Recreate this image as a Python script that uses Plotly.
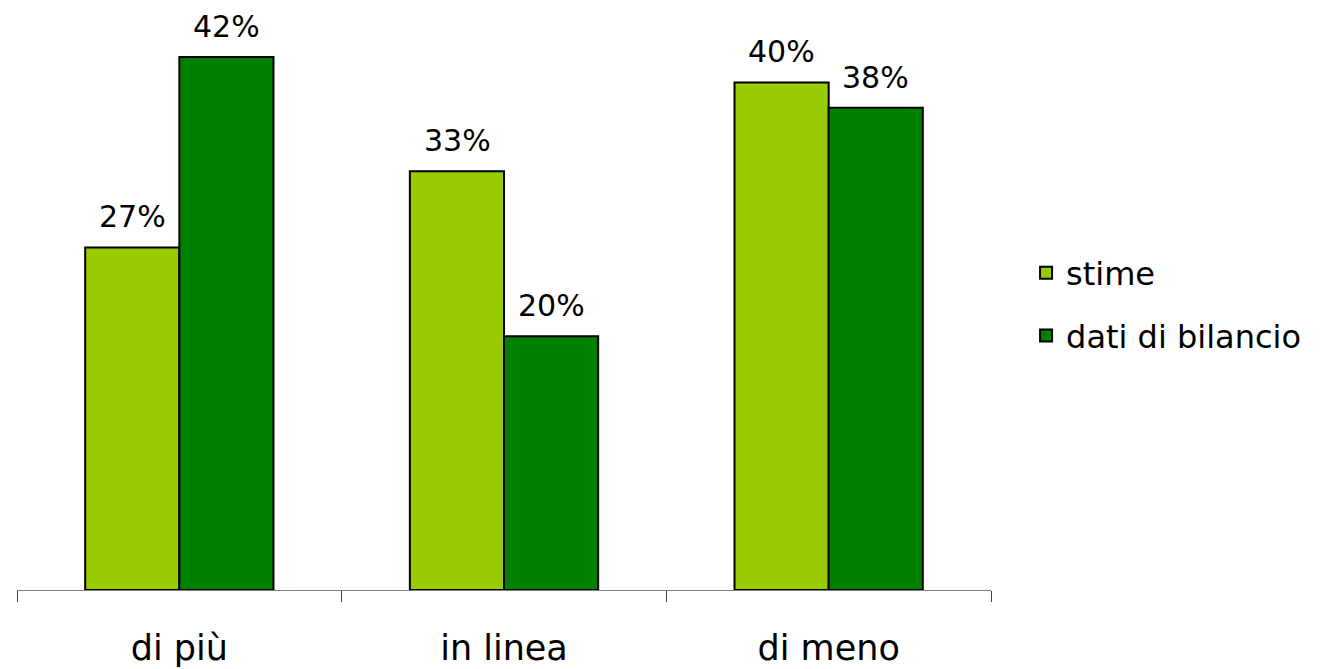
import plotly.graph_objects as go

categories = ["di più", "in linea", "di meno"]
stime = [27, 33, 40]
dati_bilancio = [42, 20, 38]
series_names = ["stime", "dati di bilancio"]
colors = ["#99CC00", "#008000"]

FONT = "DejaVu Sans"

fig = go.Figure()
for i, (name, vals) in enumerate(zip(series_names, [stime, dati_bilancio])):
    fig.add_trace(go.Bar(
        x=categories, y=vals, name=name,
        marker=dict(color=colors[i], line=dict(color="black", width=2)),
        legendgroup=name,
    ))

# data labels
for i, vals in enumerate([stime, dati_bilancio]):
    shift = -47 if i == 0 else 47
    for c, v in zip(categories, vals):
        fig.add_annotation(x=c, y=v, xref="x", yref="y", text=f"{v}%",
                           showarrow=False, yanchor="bottom", xanchor="center",
                           xshift=shift, yshift=11,
                           font=dict(family=FONT, size=30, color="black"))

fig.update_layout(
    width=1314, height=661,
    margin=dict(l=9, r=331, t=11, b=79, autoexpand=False),
    paper_bgcolor="white", plot_bgcolor="white",
    barmode="group", bargap=0.42, bargroupgap=0,
    font=dict(family=FONT, size=30, color="black"),
    legend=dict(x=1.036, y=0.5, xanchor="left", yanchor="middle",
                font=dict(family=FONT, size=32), tracegroupgap=18,
                itemwidth=30),
    showlegend=True,
)
fig.update_xaxes(showline=True, linecolor="#808080", linewidth=1,
                 ticks="outside", ticklen=11, tickcolor="#404040", tickwidth=1,
                 tickson="boundaries", showgrid=False, ticklabelstandoff=27,
                 automargin=False,
                 tickfont=dict(family=FONT, size=35, color="black"))
fig.update_yaxes(range=[0, 45], visible=False, showgrid=False)

fig.write_html("out.html")
